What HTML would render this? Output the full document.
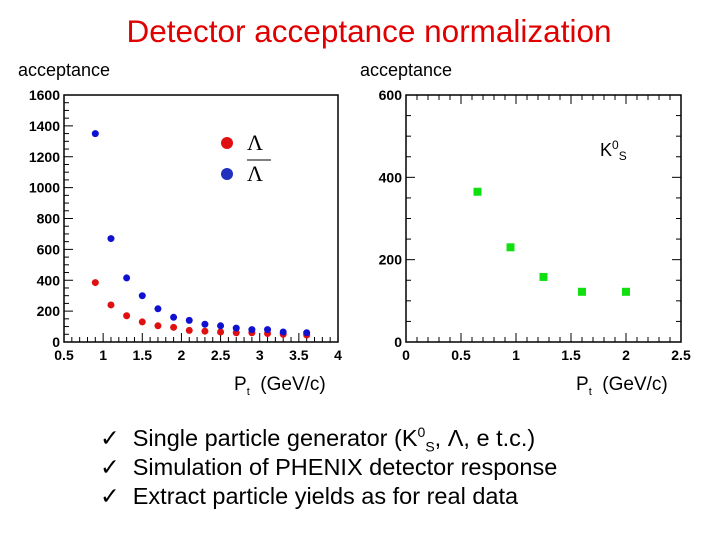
<!DOCTYPE html>
<html><head><meta charset="utf-8"><style>
body{margin:0;width:720px;height:540px;background:#fff;overflow:hidden;font-family:"Liberation Sans",sans-serif}
.t{position:absolute;white-space:nowrap}
sup,sub{line-height:0}
</style></head><body>
<div class="t" style="left:0;width:738px;text-align:center;top:13px;font-size:31.5px;color:#e00000">Detector acceptance normalization</div>
<div class="t" style="left:18px;top:60px;font-size:18px">acceptance</div>
<div class="t" style="left:360px;top:60px;font-size:18px">acceptance</div>
<div class="t" style="left:234px;top:374px;font-size:19px">P<sub style="font-size:11px">t</sub> &nbsp;(GeV/c)</div>
<div class="t" style="left:576px;top:374px;font-size:19px">P<sub style="font-size:11px">t</sub> &nbsp;(GeV/c)</div>
<div class="t" style="left:100px;top:424px;font-size:23.5px;line-height:29px">
<div>✓&nbsp; Single particle generator (K<sup style="font-size:14px">0</sup><sub style="font-size:14px">S</sub>, Λ, e t.c.)</div>
<div>✓&nbsp; Simulation of PHENIX detector response</div>
<div>✓&nbsp; Extract particle yields as for real data</div>
</div>
<svg id="c" width="720" height="540" style="position:absolute;left:0;top:0"></svg>
<script>
const lamX=[0.9,1.1,1.3,1.5,1.7,1.9,2.1,2.3,2.5,2.7,2.9,3.1,3.3,3.6];
const lamVals=[385,240,170,130,105,95,75,70,65,60,60,55,50,45];
const alamVals=[1350,670,415,300,215,160,140,115,105,90,80,80,65,60];
const k0X=[0.65,0.95,1.25,1.6,2.0];
const k0Vals=[365,230,158,122,122];
const leftXTicks=["0.5","1","1.5","2","2.5","3","3.5","4"];
const leftYTicks=["0","200","400","600","800","1000","1200","1400","1600"];
const rightXTicks=["0","0.5","1","1.5","2","2.5"];
const rightYTicks=["0","200","400","600"];
const svg=document.getElementById('c');const NS='http://www.w3.org/2000/svg';
function mk(t,a,p){const e=document.createElementNS(NS,t);for(const k in a)e.setAttribute(k,a[k]);(p||svg).appendChild(e);return e;}
function frame(L,R,T,B,x0,x1,y0,y1,xt,yt,xminor,yminor,both,name){
 const g=mk('g',{});
 
 
 const sx=v=>L+(v-x0)/(x1-x0)*(R-L), sy=v=>B-(v-y0)/(y1-y0)*(B-T);
 mk('rect',{x:L,y:T,width:R-L,height:B-T,fill:'none',stroke:'#000','stroke-width':1.5},g);
 const xs=(x1-x0)/(xt.length-1), ys=(y1-y0)/(yt.length-1);
 for(let i=0;i<(xt.length-1)*xminor;i++){const v=x0+i*xs/xminor,big=i%xminor==0,l=big?9:5;const X=sx(v);
  mk('line',{x1:X,x2:X,y1:B,y2:B-l,stroke:'#000'},g);if(both)mk('line',{x1:X,x2:X,y1:T,y2:T+l,stroke:'#000'},g);}
 for(let i=0;i<(yt.length-1)*yminor;i++){const v=y0+i*ys/yminor,big=i%yminor==0,l=big?9:5;const Y=sy(v);
  mk('line',{x1:L,x2:L+l,y1:Y,y2:Y,stroke:'#000'},g);if(both)mk('line',{x1:R,x2:R-l,y1:Y,y2:Y,stroke:'#000'},g);}
 xt.forEach((s,i)=>{const t=mk('text',{x:sx(x0+i*xs),y:B+18,'text-anchor':'middle','font-size':14,'font-weight':'bold','font-family':'Liberation Sans'},g);t.textContent=s;});
 yt.forEach((s,i)=>{const t=mk('text',{x:L-4,y:sy(y0+i*ys)+5,'text-anchor':'end','font-size':14,'font-weight':'bold','font-family':'Liberation Sans'},g);t.textContent=s;});
 return [sx,sy];
}
const [lx,ly]=frame(64,338,95,342,0.5,4,0,1600,leftXTicks,leftYTicks,5,4,false,'left-chart');
const [rx,ry]=frame(406,681,95,342,0,2.5,0,600,rightXTicks,rightYTicks,5,4,true,'right-chart');
lamX.forEach((x,i)=>{const c=mk('circle',{cx:lx(x),cy:ly(lamVals[i]),r:3.5,fill:'#e01010'});

});
lamX.forEach((x,i)=>{const c=mk('circle',{cx:lx(x),cy:ly(alamVals[i]),r:3.5,fill:'#1010d0'});

});
k0X.forEach((x,i)=>{const r=mk('rect',{x:rx(x)-4,y:ry(k0Vals[i])-4,width:8,height:8,fill:'#10e010'});

});
mk('circle',{cx:227,cy:143,r:6,fill:'#e01010'});mk('circle',{cx:227,cy:174,r:6,fill:'#2030c0'});
let t=mk('text',{x:255,y:150,'text-anchor':'middle','font-size':22,'font-family':'Liberation Serif'});t.textContent='Λ';

t=mk('text',{x:255,y:181,'text-anchor':'middle','font-size':22,'font-family':'Liberation Serif'});t.textContent='Λ';

mk('line',{x1:247,x2:271,y1:160,y2:160,stroke:'#000'});
t=mk('text',{x:600,y:156,'font-size':18,'font-family':'Liberation Sans'});t.innerHTML='K<tspan font-size="12" dy="-7">0</tspan><tspan font-size="12" dy="11">S</tspan>';

</script>
</body></html>
